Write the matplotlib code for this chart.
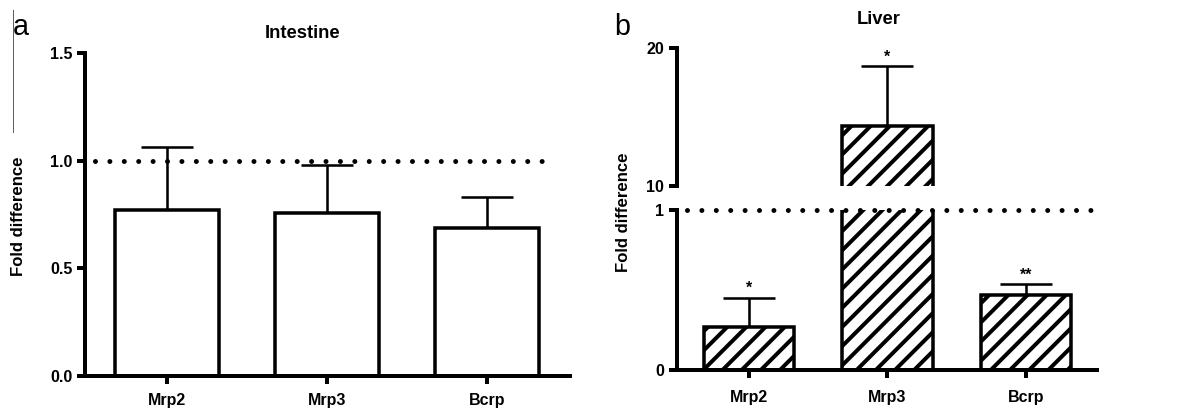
import numpy as np
import matplotlib
matplotlib.use('Agg')
import matplotlib.pyplot as plt
from matplotlib.lines import Line2D

genes = ['Mrp2', 'Mrp3', 'Bcrp']

# intestine: fold difference, mean and upper SD
intestine_mean = [0.771, 0.756, 0.689]
intestine_sd = [0.295, 0.224, 0.141]

# liver: fold difference (broken axis 0-1 / 10-20)
liver_mean = [0.27, 14.36, 0.469]
liver_sd = [0.182, 4.34, 0.067]
liver_stars = ['*', '*', '**']

ref_level = 1.0

plt.rcParams['font.family'] = ['Liberation Sans', 'DejaVu Sans']
plt.rcParams['font.weight'] = 'bold'
plt.rcParams['hatch.linewidth'] = 2.5
plt.rcParams['hatch.color'] = 'black'

DPI = 115
fig = plt.figure(figsize=(1183 / DPI, 414 / DPI), dpi=DPI)

x = np.arange(len(genes))
bar_w = 0.65
dot_style = (0.9, (0.01, 2.9))


def style_axis(ax, xpad):
  for s in ['top', 'right']:
    ax.spines[s].set_visible(False)
  for s in ['left', 'bottom']:
    ax.spines[s].set_linewidth(2.5)
  ax.tick_params(axis='both', direction='out', length=5, width=2.5, labelsize=10)
  ax.tick_params(axis='y', pad=3)
  ax.tick_params(axis='x', pad=xpad)


#----------------------------------------------------------
# (a) Intestine

ax1 = fig.add_axes([0.0719, 0.0925, 0.4099, 0.7788])
ax1.bar(x, intestine_mean, width=bar_w, color='white', edgecolor='black', linewidth=2.2, zorder=2)
ax1.errorbar(x, intestine_mean, yerr=[np.zeros(len(x)), intestine_sd], fmt='none',
             ecolor='black', elinewidth=1.6, capsize=16.5, capthick=1.6, zorder=1)
ax1.axhline(ref_level, xmin=0, xmax=0.948, color='black', lw=3.1, ls=dot_style,
            dash_capstyle='round', zorder=3)
ax1.set_xlim(-0.5125, 2.52)
ax1.set_ylim(0, 1.5)
ax1.set_yticks([0, 0.5, 1.0, 1.5])
ax1.set_yticklabels(['0.0', '0.5', '1.0', '1.5'])
ax1.set_xticks(x)
ax1.set_xticklabels(genes)
style_axis(ax1, 6)

fig.text(303 / 1183, 1 - 33 / 414, 'Intestine', ha='center', va='center', fontsize=11.5)
fig.text(19 / 1183, 1 - 216 / 414, 'Fold difference', rotation=90, ha='center', va='center', fontsize=10.5)
fig.text(13 / 1183, 1 - 35 / 414, 'a', ha='left', va='baseline', fontsize=18, fontweight='normal')
fig.add_artist(Line2D([12.7 / 1183] * 2, [1 - 10 / 414, 1 - 132 / 414], color='0.35', lw=0.6))

#----------------------------------------------------------
# (b) Liver, broken y axis

axb_lo = fig.add_axes([0.572, 0.1063, 0.355, 0.3865])
axb_hi = fig.add_axes([0.572, 0.5507, 0.355, 0.3326])

for ax in (axb_lo, axb_hi):
  ax.bar(x, liver_mean, width=bar_w, color='white', edgecolor='black', hatch='//', linewidth=2.2, zorder=2)
  ax.errorbar(x, liver_mean, yerr=[np.zeros(len(x)), liver_sd], fmt='none',
              ecolor='black', elinewidth=1.6, capsize=16.5, capthick=1.6, zorder=1)
  ax.set_xlim(-0.522, 2.51)
  style_axis(ax, 7.5)

axb_lo.set_ylim(0, 1)
axb_lo.set_yticks([0, 1])
axb_lo.set_xticks(x)
axb_lo.set_xticklabels(genes)
axb_lo.axhline(ref_level, xmin=0, xmax=1.01, color='black', lw=3.1, ls=dot_style,
               dash_capstyle='round', zorder=3, clip_on=False)

axb_hi.set_ylim(10, 20)
axb_hi.set_yticks([10, 20])
axb_hi.spines['bottom'].set_visible(False)
axb_hi.tick_params(axis='x', bottom=False, labelbottom=False)

for i in range(len(genes)):
  top = liver_mean[i] + liver_sd[i]
  ax = axb_hi if top > 10 else axb_lo
  ax.annotate(liver_stars[i], (x[i], top), xytext=(0, 3), textcoords='offset points',
              ha='center', va='baseline', fontsize=10, annotation_clip=False)

fig.text(879 / 1183, 1 - 20 / 414, 'Liver', ha='center', va='center', fontsize=11.5)
fig.text(623 / 1183, 1 - 212 / 414, 'Fold difference', rotation=90, ha='center', va='center', fontsize=10.5)
fig.text(614 / 1183, 1 - 35 / 414, 'b', ha='left', va='baseline', fontsize=18, fontweight='normal')

plt.savefig('out.png', dpi=DPI)
plt.clf()
